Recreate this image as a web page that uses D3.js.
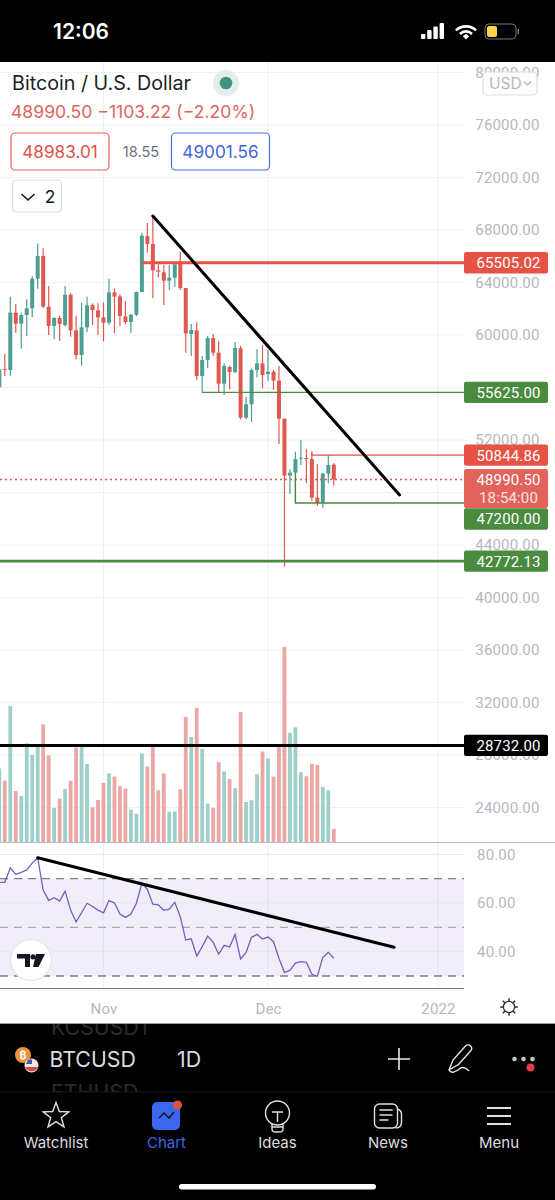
<!DOCTYPE html>
<html>
<head>
<meta charset="utf-8">
<title>BTCUSD</title>
<script src="https://cdn.jsdelivr.net/npm/d3@7"></script>
<style>
  html, body { margin: 0; padding: 0; background: #000; }
  svg { display: block; }
  text { font-family: Inter, "Noto Sans", sans-serif; }
</style>
</head>
<body>
<div id="wrapper"></div>
<script>
// Values, one entry per daily candle from 2021-10-13
const candleOpen = [56011,57408,57332,61701,60863,61523,62031,64292,66019,62158,60685,61294,60761,63072,60355,58475,60583,62285,61879,61345,60939,63250,62945,61421,60990,61548,63276,67543,66933,64927,64774,64139,64368,65460,63580,60075,60355,56875,58094,59770,58653,56291,57561,57180,58984,53701,54717,57333,57841,57028,57206,56520,53625,49281,49510,50577,50627,50551,47605,47224,49434,50119];
const candleHigh = [57450,58551,62920,62361,61701,62717,64495,66984,66603,63733,61350,61447,63733,63174,61472,62463,62920,62412,62412,62488,64292,63555,63098,62590,61599,63320,67797,68559,69016,65460,65333,65333,65460,66349,63580,60837,60964,58399,59923,60075,59516,57840,57662,59466,59162,55301,57460,58908,59238,58857,57333,57638,53625,49764,51110,51999,51288,50856,50170,49510,50856,50221];
const candleLow = [55950,56875,56900,60177,58958,59923,61345,63530,62082,60000,59669,59542,60634,59872,58145,57662,60202,60736,60000,59516,60761,60126,60685,60812,60126,61447,63276,66273,62793,64393,62285,63428,63631,63428,58653,58399,56570,55605,57459,58399,55605,55427,55859,57078,53574,53574,53371,56774,55936,56495,55809,51694,42347,47859,47224,50094,48697,47376,46970,46843,48697,48519];
const candleClose = [57383,57332,61701,60863,61523,62031,64292,66019,62158,60685,61294,60837,63072,60355,58475,60583,62260,61904,61345,60939,63250,62920,61447,60990,61548,63276,67568,66933,64927,64825,64139,64368,65384,63580,60126,60380,56875,58094,59770,58653,56291,57637,57180,59008,53701,54717,57333,57841,56952,57206,56520,53625,49281,49510,50551,50653,50551,47605,47224,49434,50094,48990.5];
const volumes = [221,185,408,154,139,296,262,290,353,260,103,131,160,184,284,290,235,105,127,178,207,197,168,161,98,86,266,227,286,156,206,92,93,159,375,315,402,280,116,103,240,212,190,162,390,121,126,204,272,251,197,290,584,327,344,210,198,235,232,166,156,41];
const rsiValues = [68.5,68.5,74.5,71.8,72.6,73.6,76.4,78.6,65.3,61.1,62.2,60.8,64.9,57.1,52.3,56.0,59.9,58.6,57.1,56.0,61.0,60.0,55.5,54.1,55.5,59.9,68.1,65.6,59.5,59.2,57.0,57.5,60.3,54.4,44.8,45.3,38.2,42.1,46.4,43.8,39.0,42.6,41.9,47.1,37.0,39.7,45.9,47.1,45.2,46.0,44.1,37.3,31.5,32.3,35.3,35.9,35.6,30.7,29.9,37.7,39.7,37.3];

const priceTicks = [80000,76000,72000,68000,64000,60000,56000,52000,48000,44000,40000,36000,32000,28000,24000];
// 56000 and 48000 are fully covered by price tags, so they get no label.
const priceTickLabels = [80000,76000,72000,68000,64000,60000,52000,44000,40000,36000,32000,28000,24000];
const rsiTicks = [80,60,40];
const rsiBands = [70,50,30];
const monthTicks = ["2021-11-01","2021-12-01","2022-01-01"];
const monthLabels = ["Nov","Dec","2022"];

const levelValues = [65505.02,55625.00,50844.86,47200.00,42772.13,28732.00];
const levelStarts = ["2021-11-08","2021-11-19","2021-12-09","2021-12-06","2021-10-13","2021-10-13"];
const levelKinds = ["red","green","red","green","green","black"];
const lastPrice = 48990.50;

const trendDates = ["2021-11-10","2021-12-25"];
const trendPrices = [69067,47810];
const rsiTrendDates = ["2021-10-20","2021-12-24"];
const rsiTrendValues = [78.6,41.8];

// 1. Access data

const parseDay = d3.utcParse("%Y-%m-%d");
const candleDates = d3.utcDay.range(parseDay("2021-10-13"), parseDay("2021-12-14"));
const candles = candleDates.map((date, i) => ({
  date,
  open: candleOpen[i],
  high: candleHigh[i],
  low: candleLow[i],
  close: candleClose[i],
  volume: volumes[i],
  rsi: rsiValues[i],
}));
const isDown = d => d.close < d.open;

// 2. Create chart dimensions

const dimensions = {
  width: 555,
  height: 1200,
  chartTop: 62,
  chartBottom: 1024,
  plotRight: 464,
  pricePaneBottom: 842.5,
  rsiPaneBottom: 988.5,
};

const colors = {
  up: "#4c9f92",
  down: "#e0584f",
  upVolume: "#9dd0ca",
  downVolume: "#eca6a4",
  grid: "#f0f1f6",
  axisText: "#b4b7bf",
  red: "#e65345",
  green: "#4b8b3f",
  black: "#000",
  rsi: "#7460bd",
};

// 3. Draw canvas

const wrapper = d3.select("#wrapper")
  .append("svg")
    .attr("width", dimensions.width)
    .attr("height", dimensions.height);

wrapper.append("rect")
    .attr("width", dimensions.width)
    .attr("height", dimensions.height)
    .attr("fill", "#000");
wrapper.append("rect")
    .attr("y", dimensions.chartTop)
    .attr("width", dimensions.width)
    .attr("height", dimensions.chartBottom - dimensions.chartTop)
    .attr("fill", "#fff");

wrapper.append("defs").append("clipPath")
    .attr("id", "plot-clip")
  .append("rect")
    .attr("y", dimensions.chartTop)
    .attr("width", dimensions.plotRight)
    .attr("height", dimensions.chartBottom - dimensions.chartTop);

// 4. Create scales

const xScale = d3.scaleUtc()
    .domain([parseDay("2021-11-01"), parseDay("2021-12-01")])
    .range([103.5, 268]);

const priceScale = d3.scaleLinear()
    .domain([24000, 76000])
    .range([807.5, 125]);

const volumeScale = d3.scaleLinear()
    .domain([0, 584])
    .range([dimensions.pricePaneBottom, 647]);

const rsiScale = d3.scaleLinear()
    .domain([30, 70])
    .range([976, 878.7]);

// 5. Draw peripherals (grid and panes)

const grid = wrapper.append("g").attr("clip-path", "url(#plot-clip)");

grid.selectAll(".price-grid")
  .data(priceTicks)
  .join("line")
    .attr("x2", dimensions.plotRight)
    .attr("y1", d => priceScale(d))
    .attr("y2", d => priceScale(d))
    .attr("stroke", colors.grid)
    .attr("stroke-width", 1.2);

grid.selectAll(".month-grid")
  .data(monthTicks)
  .join("line")
    .attr("x1", d => xScale(parseDay(d)))
    .attr("x2", d => xScale(parseDay(d)))
    .attr("y1", dimensions.chartTop)
    .attr("y2", dimensions.rsiPaneBottom)
    .attr("stroke", colors.grid)
    .attr("stroke-width", 1.2);

grid.append("rect")
    .attr("y", rsiScale(70))
    .attr("width", dimensions.plotRight)
    .attr("height", rsiScale(30) - rsiScale(70))
    .attr("fill", "#7e57c2")
    .attr("fill-opacity", 0.1);

grid.selectAll(".rsi-grid")
  .data(rsiTicks)
  .join("line")
    .attr("x2", dimensions.plotRight)
    .attr("y1", d => rsiScale(d))
    .attr("y2", d => rsiScale(d))
    .attr("stroke", "#e6e6ee")
    .attr("stroke-width", 1);

grid.selectAll(".rsi-band")
  .data(rsiBands)
  .join("line")
    .attr("x2", dimensions.plotRight)
    .attr("y1", d => rsiScale(d))
    .attr("y2", d => rsiScale(d))
    .attr("stroke", d => d === 50 ? "#a8aab2" : "#7c7e88")
    .attr("stroke-width", 1.3)
    .attr("stroke-dasharray", "8 6");

// Pane separators. The lower one stops at the axis column.
wrapper.append("line")
    .attr("x2", dimensions.width)
    .attr("y1", dimensions.pricePaneBottom)
    .attr("y2", dimensions.pricePaneBottom)
    .attr("stroke", "#b9bac0");
wrapper.append("line")
    .attr("x2", dimensions.plotRight)
    .attr("y1", dimensions.rsiPaneBottom)
    .attr("y2", dimensions.rsiPaneBottom)
    .attr("stroke", "#77797f");
wrapper.append("line")
    .attr("x2", dimensions.width)
    .attr("y1", dimensions.chartBottom - 0.5)
    .attr("y2", dimensions.chartBottom - 0.5)
    .attr("stroke", "#9b9ca2");

// 6. Draw data

const plot = wrapper.append("g").attr("clip-path", "url(#plot-clip)");

plot.selectAll(".volume")
  .data(candles)
  .join("rect")
    .attr("x", d => xScale(d.date) - 1.9)
    .attr("width", 3.8)
    .attr("y", d => volumeScale(d.volume))
    .attr("height", d => volumeScale(0) - volumeScale(d.volume))
    .attr("fill", d => isDown(d) ? colors.downVolume : colors.upVolume);

plot.selectAll(".wick")
  .data(candles)
  .join("line")
    .attr("x1", d => xScale(d.date))
    .attr("x2", d => xScale(d.date))
    .attr("y1", d => priceScale(d.high))
    .attr("y2", d => priceScale(d.low))
    .attr("stroke", d => isDown(d) ? colors.down : colors.up)
    .attr("stroke-width", 1.2);

plot.selectAll(".body")
  .data(candles)
  .join("rect")
    .attr("x", d => xScale(d.date) - 2)
    .attr("width", 4)
    .attr("y", d => priceScale(Math.max(d.open, d.close)))
    .attr("height", d => Math.max(1, Math.abs(priceScale(d.open) - priceScale(d.close))))
    .attr("fill", d => isDown(d) ? colors.down : colors.up);

// RSI line
const rsiLine = d3.line()
    .x(d => xScale(d.date))
    .y(d => rsiScale(d.rsi));

plot.append("path")
    .datum(candles)
    .attr("d", rsiLine)
    .attr("fill", "none")
    .attr("stroke", colors.rsi)
    .attr("stroke-width", 1.3);

// Last price line
plot.append("line")
    .attr("x2", dimensions.plotRight)
    .attr("y1", priceScale(lastPrice))
    .attr("y2", priceScale(lastPrice))
    .attr("stroke", colors.down)
    .attr("stroke-width", 1.3)
    .attr("stroke-dasharray", "2 3");

// Horizontal levels. Thin ones have a small hook at the left end.
const levelColor = kind => ({ red: colors.red, green: colors.green, black: colors.black })[kind];
const levelWidths = [3, 1.4, 1.4, 1.4, 2.6, 3];
const levelHooks = [0, 0, 4, 30, 0, 0];
levelValues.forEach((value, i) => {
  const y = priceScale(value);
  const x = xScale(parseDay(levelStarts[i]));
  plot.append("path")
      .attr("d", `M${x},${y - levelHooks[i]}V${y}H${dimensions.plotRight}`)
      .attr("fill", "none")
      .attr("stroke", levelColor(levelKinds[i]))
      .attr("stroke-width", levelWidths[i]);
});

// Trend lines
const drawTrend = (dates, values, scale) => {
  wrapper.append("line")
      .attr("x1", xScale(parseDay(dates[0])))
      .attr("x2", xScale(parseDay(dates[1])))
      .attr("y1", scale(values[0]))
      .attr("y2", scale(values[1]))
      .attr("stroke", "#000")
      .attr("stroke-width", 3)
      .attr("stroke-linecap", "round");
};
drawTrend(trendDates, trendPrices, priceScale);
drawTrend(rsiTrendDates, rsiTrendValues, rsiScale);

// 7. Axes

const axisFontFamily = "Roboto, sans-serif";
const axisFontSize = 15;
const axisSpacing = "0.15px";

const axisFont = g => g
    .call(s => s.select(".domain").remove())
    .call(s => s.selectAll(".tick line").remove())
    .call(s => s.selectAll(".tick text")
      .attr("fill", colors.axisText)
      .attr("font-size", axisFontSize)
      .style("letter-spacing", axisSpacing)
      .style("font-family", axisFontFamily));

wrapper.append("g")
    .attr("transform", "translate(539.5,0)")
    .call(d3.axisLeft(priceScale).tickValues(priceTickLabels).tickFormat(d3.format(".2f")).tickSize(0).tickPadding(0))
    .call(axisFont);

wrapper.append("g")
    .attr("transform", "translate(515.5,0)")
    .call(d3.axisLeft(rsiScale).tickValues(rsiTicks).tickFormat(d3.format(".2f")).tickSize(0).tickPadding(0))
    .call(axisFont);

wrapper.append("g")
    .attr("transform", "translate(0,1000)")
    .call(d3.axisBottom(xScale)
      .tickValues(monthTicks.map(parseDay))
      .tickFormat((d, i) => monthLabels[i])
      .tickSize(0))
    .call(axisFont);

// Price tags sit on top of the axis labels. The app pushes the 47200 tag
// down so that it does not collide with the last price tag.
const tagNudges = [0, 0, 0, 16, 0, 0];
const addTagText = (parent, y, str, fill = "#fff") => parent.append("text")
    .attr("x", 508.5)
    .attr("y", y)
    .attr("text-anchor", "middle")
    .attr("fill", fill)
    .attr("font-size", axisFontSize)
    .style("letter-spacing", axisSpacing)
    .style("font-family", axisFontFamily)
    .text(str);

levelValues.forEach((value, i) => {
  const y = priceScale(value) + tagNudges[i];
  const tag = wrapper.append("g");
  tag.append("rect")
      .attr("x", 464)
      .attr("y", y - 10.7)
      .attr("width", 84)
      .attr("height", 21.4)
      .attr("rx", 2)
      .attr("fill", levelColor(levelKinds[i]));
  addTagText(tag, y + 5.4, d3.format(".2f")(value));
});

const lastTag = wrapper.append("g");
lastTag.append("rect")
    .attr("x", 464)
    .attr("y", 469)
    .attr("width", 84)
    .attr("height", 39)
    .attr("rx", 2)
    .attr("fill", "#e2635b");
addTagText(lastTag, 485, d3.format(".2f")(lastPrice));
addTagText(lastTag, 503, "18:54:00", "#fbe3e1");

// Settings icon next to the time axis
const gear = wrapper.append("g")
    .attr("transform", "translate(509,1007)")
    .attr("stroke", "#2a2e39")
    .attr("fill", "none");
gear.append("circle").attr("r", 5.6).attr("stroke-width", 1.3);
gear.selectAll("line")
  .data(d3.range(0, 360, 45))
  .join("line")
    .attr("y1", -5.6)
    .attr("y2", -8.8)
    .attr("stroke-width", 1.5)
    .attr("transform", d => `rotate(${d})`);

// 8. Header overlay

const addText = (parent, x, y, str, size, fill, anchor = "start", weight = 400) =>
  parent.append("text")
      .attr("x", x)
      .attr("y", y)
      .attr("font-size", size)
      .attr("fill", fill)
      .attr("text-anchor", anchor)
      .attr("font-weight", weight)
      .text(str);

const header = wrapper.append("g");
addText(header, 12, 90, "Bitcoin / U.S. Dollar", 19.7, "#1d1f26");
header.append("circle").attr("cx", 226).attr("cy", 83).attr("r", 13).attr("fill", "#e2eeec");
header.append("circle").attr("cx", 226).attr("cy", 83).attr("r", 6.3).attr("fill", "#3f9384");
addText(header, 11, 118, "48990.50 \u22121103.22 (\u22122.20%)", 17.6, "#dd6660");

const addBox = (x, y, w, h, stroke) => header.append("rect")
    .attr("x", x).attr("y", y).attr("width", w).attr("height", h)
    .attr("rx", 4)
    .attr("fill", "#fff")
    .attr("stroke", stroke)
    .attr("stroke-width", 1.2);

addBox(11, 133, 98, 37, "#e0605a");
addText(header, 60, 158, "48983.01", 17.2, "#e0524a", "middle");
addText(header, 141, 157, "18.55", 14.6, "#6f717a", "middle");
addBox(171.5, 133, 98, 37, "#4a6fe0");
addText(header, 220.5, 158, "49001.56", 17.2, "#3f66dc", "middle");

addBox(12.5, 180, 49, 32, "#dcdde2");
header.append("path")
    .attr("d", "M21.5,194L28,200L34.5,194")
    .attr("fill", "none")
    .attr("stroke", "#131722")
    .attr("stroke-width", 1.6);
addText(header, 50, 203, "2", 17.5, "#131722", "middle");

// USD button over the top axis label
header.append("rect")
    .attr("x", 483).attr("y", 72).attr("width", 54).attr("height", 23)
    .attr("rx", 4)
    .attr("fill", "#fff")
    .attr("fill-opacity", 0.9)
    .attr("stroke", "#dcdde2")
    .attr("stroke-width", 1.2);
addText(header, 489, 89, "USD", 15.6, "#b4b7bf");
header.append("path")
    .attr("d", "M524,81.5L527.5,85L531,81.5")
    .attr("fill", "none")
    .attr("stroke", "#b4b7bf")
    .attr("stroke-width", 1.4);

// TradingView badge
const badge = wrapper.append("g").attr("transform", "translate(31,960)");
badge.append("circle")
    .attr("r", 20.5)
    .attr("fill", "#fff")
    .attr("stroke", "#e6e6ec")
    .attr("stroke-width", 1.5);
badge.append("path")
    .attr("d", "M-14,-6H-1V7H-6V-1.5H-14ZM5,-6H14L7.5,7H2Z")
    .attr("fill", "#131722");
badge.append("circle").attr("cx", 2).attr("cy", -3.2).attr("r", 2.6).attr("fill", "#131722");

// 9. Phone chrome

const chrome = wrapper.append("g");

// Status bar
addText(chrome, 81, 39, "12:06", 21, "#fff", "middle", 600);
chrome.selectAll(".signal")
  .data([5, 9, 12.5, 16])
  .join("rect")
    .attr("x", (d, i) => 421 + i * 6.2)
    .attr("y", d => 39 - d)
    .attr("width", 4.4)
    .attr("height", d => d)
    .attr("rx", 1)
    .attr("fill", "#fff");
chrome.append("g")
    .attr("fill", "none")
    .attr("stroke", "#fff")
    .attr("stroke-width", 2.6)
  .selectAll("path")
  .data([
    "M456,30.5C461,25 471,25 476,30.5",
    "M460,34C463.5,30.5 468.5,30.5 472,34",
  ])
  .join("path")
    .attr("d", d => d);
chrome.append("path").attr("d", "M462.8,36.2L466,33.8L469.2,36.2L466,39.4Z").attr("fill", "#fff");
chrome.append("rect")
    .attr("x", 485).attr("y", 24).attr("width", 31).attr("height", 15)
    .attr("rx", 4)
    .attr("fill", "none")
    .attr("stroke", "#77767a")
    .attr("stroke-width", 1);
chrome.append("rect")
    .attr("x", 487).attr("y", 26).attr("width", 10).attr("height", 11)
    .attr("rx", 2)
    .attr("fill", "#fbd44c");
chrome.append("rect")
    .attr("x", 517.5).attr("y", 29).attr("width", 1.5).attr("height", 5)
    .attr("fill", "#77767a");

// Symbol bar, with the neighbouring symbols cut off by the wheel picker
wrapper.append("defs").append("clipPath")
    .attr("id", "picker-clip")
  .append("rect")
    .attr("y", 1024).attr("width", 555).attr("height", 68);
const picker = chrome.append("g").attr("clip-path", "url(#picker-clip)");
addText(picker, 51, 1035, "KCSUSDT", 21.3, "#2b2b2e");
addText(picker, 51, 1100, "ETHUSD", 21.3, "#2b2b2e");
addText(chrome, 49.5, 1067, "BTCUSD", 21.3, "#dcdcdf");
addText(chrome, 177, 1067, "1D", 21.3, "#dcdcdf");

chrome.append("circle").attr("cx", 23).attr("cy", 1055).attr("r", 8).attr("fill", "#e8953a");
addText(chrome, 23, 1059, "\u20bf", 10, "#fff", "middle", 700);
chrome.append("circle").attr("cx", 31.5).attr("cy", 1065.5).attr("r", 7).attr("fill", "#f1e8e8");
chrome.append("path").attr("d", "M25,1067H38A7,7 0 0 1 25,1067Z").attr("fill", "#d8484a");
chrome.append("path").attr("d", "M28,1059.5L32,1059.5L32,1064L26,1064Z").attr("fill", "#4a5aa8");

chrome.append("path")
    .attr("d", "M388,1059H410M399,1048V1070")
    .attr("stroke", "#e8e8e8")
    .attr("stroke-width", 1.6);
chrome.append("path")
    .attr("transform", "translate(22,0)")
    .attr("d", "M427,1070L431,1060L443,1046.5C445,1044.5 447,1044.5 448.5,1046C450,1047.5 450,1049.5 448.5,1051L436.5,1064.5L427,1070C429,1074 434,1072 438,1068.5C441,1066 444,1068 447,1071")
    .attr("fill", "none")
    .attr("stroke", "#e8e8e8")
    .attr("stroke-width", 1.4);
chrome.selectAll(".dot")
  .data([514.5, 523.5, 532.5])
  .join("circle")
    .attr("cx", d => d)
    .attr("cy", 1059)
    .attr("r", 2.3)
    .attr("fill", "#c8c8c8");
chrome.append("circle").attr("cx", 530.5).attr("cy", 1067.5).attr("r", 4).attr("fill", "#e23a48");

chrome.append("line")
    .attr("x2", 555).attr("y1", 1092).attr("y2", 1092)
    .attr("stroke", "#1b1b1d");

// Bottom navigation
const navLabels = ["Watchlist", "Chart", "Ideas", "News", "Menu"];
const navX = [56, 166.5, 277.5, 388, 499];
navLabels.forEach((label, i) => {
  addText(chrome, navX[i], 1148, label, 15, i === 1 ? "#3d66e8" : "#dcdcde", "middle");
});

chrome.append("path")
    .attr("d", d3.range(10).map(i => {
      const r = i % 2 ? 5.6 : 13.5;
      const a = i * Math.PI / 5;
      return `${i ? "L" : "M"}${56 + r * Math.sin(a)},${1116 - r * Math.cos(a)}`;
    }).join("") + "Z")
    .attr("fill", "none")
    .attr("stroke", "#e0e0e2")
    .attr("stroke-width", 1.4);

chrome.append("rect")
    .attr("x", 152).attr("y", 1102).attr("width", 28).attr("height", 28)
    .attr("rx", 5)
    .attr("fill", "#3b66f0");
chrome.append("path")
    .attr("d", "M159,1118L164,1113L169,1118L174,1112")
    .attr("fill", "none")
    .attr("stroke", "#111")
    .attr("stroke-width", 1.4);
chrome.append("circle").attr("cx", 177.5).attr("cy", 1105).attr("r", 4.5).attr("fill", "#e0533a");

// Ideas bulb
const bulb = chrome.append("g")
    .attr("fill", "none")
    .attr("stroke", "#e0e0e2")
    .attr("stroke-width", 1.4);
bulb.append("circle").attr("cx", 277.5).attr("cy", 1113).attr("r", 12);
bulb.append("path").attr("d", "M272,1123V1129C272,1131 274,1132 276,1132H279C281,1132 283,1131 283,1129V1123M272,1127H283M272,1112H283M277.5,1112V1122");

chrome.append("rect")
    .attr("x", 374.5).attr("y", 1104).attr("width", 23).attr("height", 24)
    .attr("rx", 5)
    .attr("fill", "none")
    .attr("stroke", "#e0e0e2")
    .attr("stroke-width", 1.4);
chrome.append("path")
    .attr("d", "M397.5,1109C400.5,1110 401.5,1112 401.5,1114V1122C401.5,1126 399.5,1128 395.5,1128M379.5,1110H392.5M379.5,1115H392.5M379.5,1120H388.5")
    .attr("fill", "none")
    .attr("stroke", "#e0e0e2")
    .attr("stroke-width", 1.4);

chrome.selectAll(".menu-bar")
  .data([1108, 1116, 1124])
  .join("line")
    .attr("x1", 487)
    .attr("x2", 511)
    .attr("y1", d => d)
    .attr("y2", d => d)
    .attr("stroke", "#e0e0e2")
    .attr("stroke-width", 2);

chrome.append("rect")
    .attr("x", 179).attr("y", 1184).attr("width", 197).attr("height", 5.5)
    .attr("rx", 2.7)
    .attr("fill", "#fff");
</script>
</body>
</html>
